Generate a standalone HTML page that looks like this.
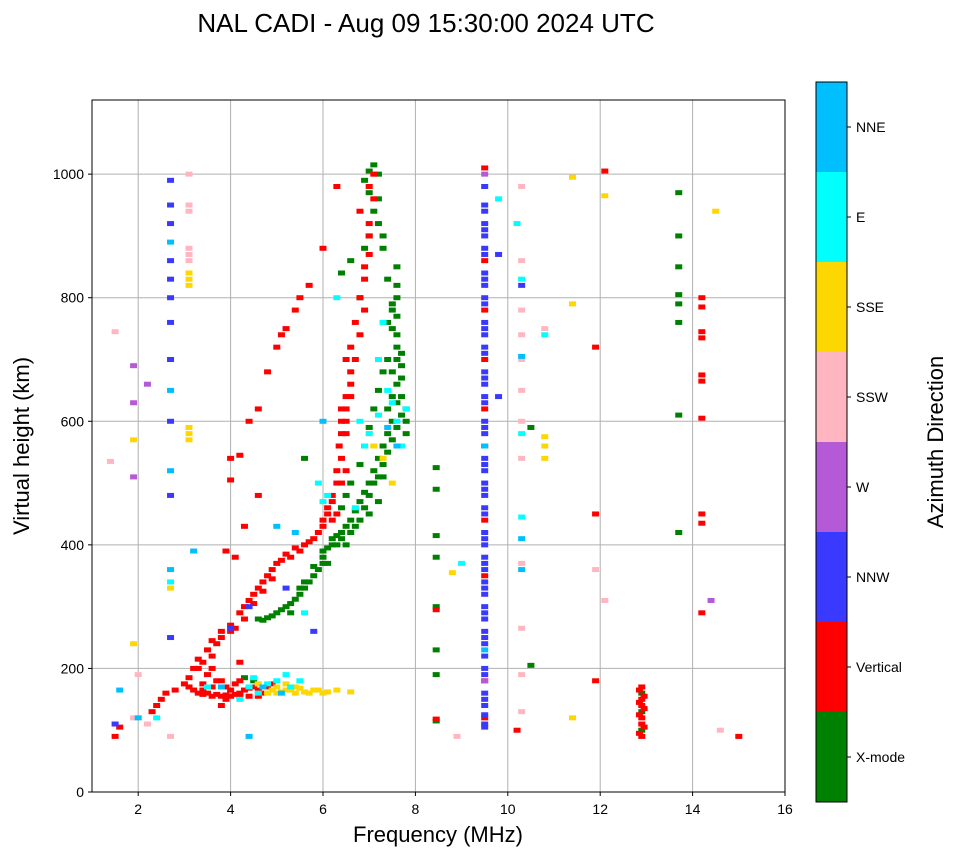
<!DOCTYPE html>
<html><head><meta charset="utf-8"><style>
body{margin:0;background:#fff;font-family:"Liberation Sans",sans-serif}
svg text{font-family:"Liberation Sans",sans-serif}
</style></head><body>
<svg id="chart" width="958" height="857">
<text x="426" y="32" font-size="26" text-anchor="middle">NAL CADI - Aug 09 15:30:00 2024 UTC</text>
<g id="grid"></g><g id="marks"></g><g id="axes"></g><g id="cbar"></g>
</svg>
<script>
const xTicks=[2,4,6,8,10,12,14,16];
const yTicks=[0,200,400,600,800,1000];
const dirNames=["X-mode","Vertical","NNW","W","SSW","SSE","E","NNE"];
const dirColors=["#008000","#ff0000","#3a3aff","#b45ad6","#ffb6c1","#ffd700","#00ffff","#00bfff"];
const xmode=[[4.6,280],[4.7,278],[4.8,282],[4.9,285],[5.0,290],[5.1,295],[5.2,300],[5.3,305],[5.4,312],[5.5,320],[5.6,330],[5.7,340],[5.8,350],[5.9,360],[6.0,380],[6.1,395],[6.2,410],[6.3,415],[6.4,420],[6.5,430],[6.6,440],[6.7,455],[6.8,470],[6.9,485],[7.0,500],[7.1,520],[7.2,540],[7.3,560],[7.4,580],[7.5,600],[7.5,640],[7.6,660],[7.5,680],[7.6,700],[7.6,720],[7.5,750],[7.5,780],[7.6,800],[7.4,830],[7.6,850],[7.3,880],[7.2,920],[7.2,960],[7.2,1000],[7.0,970],[7.1,1015],[6.4,840],[6.6,860],[6.5,400],[6.7,430],[7.0,450],[7.2,470],[7.3,510],[7.4,620],[7.7,640],[5.6,540],[8.45,115],[8.45,190],[8.45,230],[8.45,300],[8.45,380],[8.45,415],[8.45,490],[8.45,525],[13.7,420],[13.7,610],[13.7,760],[13.7,790],[13.7,805],[13.7,850],[13.7,900],[13.7,970],[12.9,100],[12.9,130],[12.9,160],[10.5,205],[10.5,590],[4.3,185],[4.5,180],
[6.0,370],[6.0,390],[6.2,400],[6.4,410],[6.6,420],[6.8,440],[6.9,460],[7.0,480],[7.1,500],[7.2,510],[7.3,530],[7.4,550],[7.5,570],[7.6,590],[7.7,610],[7.6,630],[7.7,670],[7.7,690],[7.7,710],[7.6,740],[7.6,770],[7.5,790],[7.6,820],[7.4,760],[7.4,700],[7.3,680],[7.2,650],[7.1,620],[7.0,590],[6.9,560],[6.8,530],[6.6,500],[6.5,480],[6.4,460],[6.9,880],[7.0,900],[7.1,940],[6.9,990],[7.0,1005],[5.5,330],[5.3,290],[5.6,340],[5.8,365],[6.1,370],[6.3,400],[7.8,600],[7.8,620],[7.8,580],[7.3,900],[6.8,800]];
const vertical=[[1.5,90],[1.6,105],[2.3,130],[2.4,140],[2.5,150],[2.6,160],[2.8,165],[3.0,175],[3.1,185],[3.2,200],[3.3,215],[3.5,230],[3.6,245],[3.8,260],[4.0,270],[4.2,290],[4.3,300],[4.4,310],[4.5,320],[4.6,330],[4.7,340],[4.8,350],[4.9,360],[5.0,370],[5.2,385],[5.4,395],[5.6,400],[5.8,410],[6.0,430],[6.1,450],[6.2,470],[6.3,500],[6.4,540],[6.4,580],[6.5,620],[6.6,660],[6.7,700],[6.8,740],[6.9,780],[6.9,830],[7.0,870],[7.0,920],[7.1,960],[7.1,1000],[6.3,980],[6.6,720],[6.5,600],[4.0,540],[4.2,545],[4.4,600],[4.6,620],[4.8,680],[5.0,720],[5.1,740],[5.2,750],[5.4,780],[5.5,800],[5.7,820],[6.0,880],[4.3,430],[4.6,480],[4.0,505],[3.3,160],[3.4,158],[3.5,160],[3.6,155],[3.7,158],[3.8,155],[3.9,157],[4.0,155],[4.1,158],[4.2,160],[4.3,165],[4.4,168],[4.5,170],[4.6,165],[4.7,160],[4.8,170],[4.9,175],[3.6,200],[3.8,180],[3.4,175],[3.8,140],[4.2,210],[3.9,390],[4.1,380],[12.9,90],[12.9,110],[12.9,120],[12.9,140],[12.9,150],[12.9,170],[14.2,290],[14.2,435],[14.2,450],[14.2,605],[14.2,665],[14.2,675],[14.2,735],[14.2,745],[14.2,785],[14.2,800],[15.0,90],[11.9,180],[11.9,450],[11.9,720],[12.1,1005],[10.2,100],[8.45,295],[8.45,118],[9.5,1010],[9.5,860],[9.5,780],[9.5,700],[9.5,620],[9.5,560],[9.5,440],[9.5,350],[9.5,180],[9.5,120],
[3.4,165],[3.6,170],[3.7,180],[3.9,170],[4.0,165],[4.1,175],[4.2,180],[3.5,190],[3.3,200],[3.4,210],[3.6,220],[3.7,240],[3.8,250],[4.0,260],[4.1,265],[4.3,280],[4.5,305],[4.7,325],[4.9,345],[5.1,375],[5.3,380],[5.5,390],[5.7,405],[5.9,420],[6.0,440],[6.1,460],[6.2,480],[6.3,520],[6.35,560],[6.4,600],[6.5,640],[6.6,680],[6.7,760],[6.8,800],[6.9,850],[7.0,900],[6.8,940],[7.0,980],[6.5,580],[6.4,620],[6.6,640],[6.5,700],[6.3,450],[6.2,440],[6.4,500],[6.5,520],[12.85,95],[12.95,105],[12.85,125],[12.95,135],[12.85,145],[12.95,155],[12.85,165],[3.2,165],[3.1,170],[4.6,155],[4.4,155],[4.2,155],[3.9,150]];
const nnw=[[1.5,110],[2.7,250],[2.7,480],[2.7,600],[2.7,700],[2.7,760],[2.7,860],[2.7,920],[2.7,990],[9.5,105],[9.5,125],[9.5,140],[9.5,160],[9.5,200],[9.5,220],[9.5,240],[9.5,260],[9.5,280],[9.5,300],[9.5,320],[9.5,340],[9.5,360],[9.5,380],[9.5,400],[9.5,420],[9.5,460],[9.5,480],[9.5,500],[9.5,520],[9.5,540],[9.5,580],[9.5,600],[9.5,640],[9.5,660],[9.5,680],[9.5,720],[9.5,740],[9.5,760],[9.5,800],[9.5,820],[9.5,840],[9.5,880],[9.5,900],[9.5,920],[9.5,940],[9.5,980],[9.8,640],[9.8,870],[10.3,820],[4.4,300],[5.2,330],[5.8,260],[4.0,265],
[9.5,110],[9.5,150],[9.5,190],[9.5,250],[9.5,290],[9.5,330],[9.5,370],[9.5,410],[9.5,450],[9.5,490],[9.5,530],[9.5,590],[9.5,630],[9.5,670],[9.5,710],[9.5,750],[9.5,790],[9.5,830],[9.5,870],[9.5,910],[9.5,950],[2.7,800],[2.7,830],[2.7,950]];
const west=[[1.9,690],[1.9,630],[1.9,510],[2.2,660],[14.4,310],[9.5,1000],[9.5,180]];
const ssw=[[1.4,535],[1.5,745],[1.9,120],[2.0,190],[2.7,90],[3.1,860],[3.1,940],[3.1,1000],[3.1,880],[8.9,90],[10.3,130],[10.3,190],[10.3,265],[10.3,370],[10.3,540],[10.3,650],[10.3,740],[10.3,780],[10.3,860],[10.3,980],[10.8,750],[11.9,360],[12.1,310],[14.6,100],[2.2,110],[3.1,950],[3.1,870],[10.3,600],[10.3,700]];
const sse=[[1.9,570],[1.9,240],[3.1,570],[3.1,590],[3.1,820],[3.1,840],[2.7,330],[4.9,165],[5.0,170],[5.1,162],[5.2,175],[5.3,165],[5.4,160],[5.5,168],[5.6,162],[5.8,165],[6.0,160],[6.3,165],[6.6,162],[4.6,175],[7.1,560],[7.3,540],[7.5,500],[10.8,540],[10.8,560],[10.8,575],[11.4,790],[11.4,120],[12.1,965],[14.5,940],[8.8,355],[11.4,995],[4.8,160],[5.0,160],[5.2,165],[5.4,170],[5.7,160],[5.9,165],[6.1,162],[3.1,580],[3.1,830],[7.0,580]];
const east=[[2.4,120],[2.7,340],[3.5,170],[4.2,150],[4.4,170],[4.6,160],[4.8,175],[5.2,190],[5.5,180],[5.6,290],[5.9,500],[6.1,480],[6.3,800],[6.8,600],[7.2,610],[7.4,650],[7.6,600],[7.8,620],[7.0,580],[6.9,560],[9.0,370],[9.8,960],[10.2,920],[10.3,580],[10.3,830],[10.3,445],[10.8,740],[7.3,760],[5.0,180],[5.3,170],[4.5,185],[7.5,630],[7.7,560],[7.2,700],[6.7,460],[6.0,470]];
const nne=[[1.6,165],[2.0,120],[2.7,360],[2.7,520],[2.7,650],[2.7,890],[3.2,390],[3.8,170],[5.0,430],[5.4,420],[6.0,600],[7.4,590],[7.6,560],[9.5,560],[9.5,230],[10.3,360],[10.3,410],[10.3,705],[4.4,90],[4.7,170],[5.1,160]];
const seriesList=[xmode,vertical,nnw,west,ssw,sse,east,nne];
const L=92,R=785,T=100,B=792;
const xs=f=>L+(f-1)/15*(R-L);
const ys=h=>B-h/1120*(B-T);
const NS="http://www.w3.org/2000/svg";
function mk(tag,attrs,parent){const e=document.createElementNS(NS,tag);for(const k in attrs)e.setAttribute(k,attrs[k]);parent.appendChild(e);return e;}
const grid=document.getElementById('grid'),marks=document.getElementById('marks'),axes=document.getElementById('axes'),cbar=document.getElementById('cbar');
xTicks.forEach(t=>{const l=mk('line',{x1:xs(t),x2:xs(t),y1:T,y2:B,stroke:'#b0b0b0','stroke-width':1},grid);


const tx=mk('text',{x:xs(t),y:B+22,'font-size':14,'text-anchor':'middle'},axes);tx.textContent=t;


mk('line',{x1:xs(t),x2:xs(t),y1:B,y2:B+4,stroke:'#000'},axes);});
yTicks.forEach(t=>{const l=mk('line',{x1:L,x2:R,y1:ys(t),y2:ys(t),stroke:'#b0b0b0','stroke-width':1},grid);


const tx=mk('text',{x:L-8,y:ys(t)+5,'font-size':14,'text-anchor':'end'},axes);tx.textContent=t;


mk('line',{x1:L-4,x2:L,y1:ys(t),y2:ys(t),stroke:'#000'},axes);});
seriesList.forEach((s,i)=>s.forEach(p=>{const r=mk('rect',{x:xs(p[0])-3.5,y:ys(p[1])-2.5,width:7,height:5,fill:dirColors[i]},marks);

}));
const fr=mk('rect',{x:L,y:T,width:R-L,height:B-T,fill:'none',stroke:'#000'},axes);


let t=mk('text',{x:438,y:842,'font-size':22,'text-anchor':'middle'},axes);t.textContent='Frequency (MHz)';


t=mk('text',{x:0,y:0,'font-size':22,'text-anchor':'middle',transform:'translate(29,446) rotate(-90)'},axes);t.textContent='Virtual height (km)';


const cT=82,cB=802,seg=(cB-cT)/8;
dirNames.forEach((n,i)=>{const y=cB-(i+1)*seg;
const r=mk('rect',{x:816,y:y,width:31,height:seg,fill:dirColors[i]},cbar);


mk('line',{x1:847,x2:851,y1:y+seg/2,y2:y+seg/2,stroke:'#000'},cbar);
const tx=mk('text',{x:856,y:y+seg/2+5,'font-size':14},cbar);tx.textContent=n;

});
mk('rect',{x:816,y:cT,width:31,height:cB-cT,fill:'none',stroke:'#000'},cbar);
t=mk('text',{x:0,y:0,'font-size':22,'text-anchor':'middle',transform:'translate(943,442) rotate(-90)'},cbar);t.textContent='Azimuth Direction';


</script>
</body></html>
